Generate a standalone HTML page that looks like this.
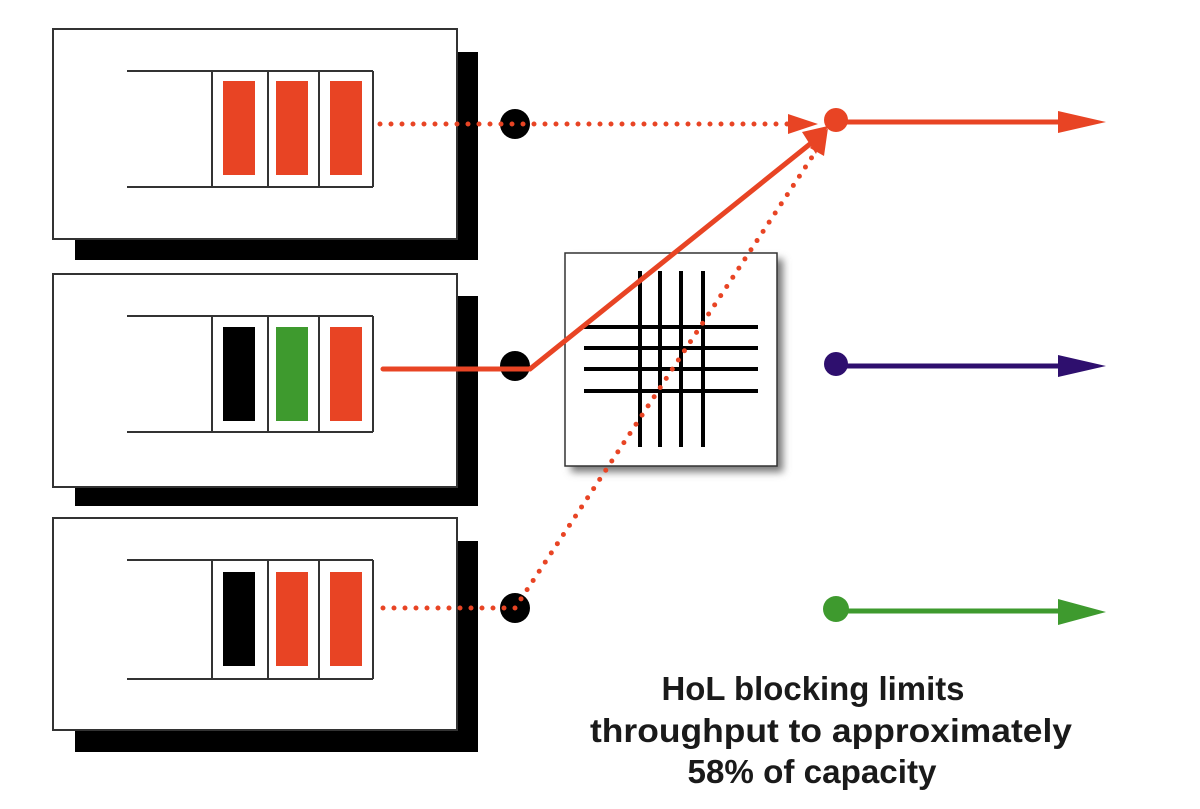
<!DOCTYPE html>
<html><head><style>html,body{margin:0;padding:0;background:#fff;}</style></head><body>
<svg width="1200" height="804" viewBox="0 0 1200 804" xmlns="http://www.w3.org/2000/svg">
<defs>
<filter id="sh" x="-20%" y="-20%" width="150%" height="150%"><feGaussianBlur stdDeviation="4"/></filter>
</defs>
<rect width="1200" height="804" fill="#fff"/>
<!-- Box 1 -->
<rect x="75" y="52" width="403" height="208" fill="#000"/>
<rect x="53" y="29" width="404" height="210" fill="#fff" stroke="#333" stroke-width="2"/>
<g stroke="#333" stroke-width="2" fill="none">
<line x1="127" y1="71" x2="373" y2="71"/><line x1="127" y1="187" x2="373" y2="187"/>
<line x1="212" y1="71" x2="212" y2="187"/><line x1="268" y1="71" x2="268" y2="187"/><line x1="319" y1="71" x2="319" y2="187"/><line x1="373" y1="71" x2="373" y2="187"/>
</g>
<rect x="223" y="81" width="32" height="94" fill="#e84424"/>
<rect x="276" y="81" width="32" height="94" fill="#e84424"/>
<rect x="330" y="81" width="32" height="94" fill="#e84424"/>
<!-- Box 2 -->
<rect x="75" y="296" width="403" height="210" fill="#000"/>
<rect x="53" y="274" width="404" height="213" fill="#fff" stroke="#333" stroke-width="2"/>
<g stroke="#333" stroke-width="2" fill="none">
<line x1="127" y1="316" x2="373" y2="316"/><line x1="127" y1="432" x2="373" y2="432"/>
<line x1="212" y1="316" x2="212" y2="432"/><line x1="268" y1="316" x2="268" y2="432"/><line x1="319" y1="316" x2="319" y2="432"/><line x1="373" y1="316" x2="373" y2="432"/>
</g>
<rect x="223" y="327" width="32" height="94" fill="#000"/>
<rect x="276" y="327" width="32" height="94" fill="#3e9a2e"/>
<rect x="330" y="327" width="32" height="94" fill="#e84424"/>
<!-- Box 3 -->
<rect x="75" y="541" width="403" height="211" fill="#000"/>
<rect x="53" y="518" width="404" height="212" fill="#fff" stroke="#333" stroke-width="2"/>
<g stroke="#333" stroke-width="2" fill="none">
<line x1="127" y1="560" x2="373" y2="560"/><line x1="127" y1="679" x2="373" y2="679"/>
<line x1="212" y1="560" x2="212" y2="679"/><line x1="268" y1="560" x2="268" y2="679"/><line x1="319" y1="560" x2="319" y2="679"/><line x1="373" y1="560" x2="373" y2="679"/>
</g>
<rect x="223" y="572" width="32" height="94" fill="#000"/>
<rect x="276" y="572" width="32" height="94" fill="#e84424"/>
<rect x="330" y="572" width="32" height="94" fill="#e84424"/>
<!-- crossbar -->
<rect x="571" y="259" width="212" height="213" fill="#777" filter="url(#sh)"/>
<rect x="565" y="253" width="212" height="213" fill="#fff" stroke="#333" stroke-width="1.5"/>
<g stroke="#000" stroke-width="4">
<line x1="640" y1="271" x2="640" y2="447"/><line x1="660" y1="271" x2="660" y2="447"/><line x1="681" y1="271" x2="681" y2="447"/><line x1="703" y1="271" x2="703" y2="447"/>
<line x1="584" y1="327" x2="758" y2="327"/><line x1="584" y1="348" x2="758" y2="348"/><line x1="584" y1="369" x2="758" y2="369"/><line x1="584" y1="391" x2="758" y2="391"/>
</g>
<!-- black dots -->
<circle cx="515" cy="124" r="15" fill="#000"/>
<circle cx="515" cy="366" r="15" fill="#000"/>
<circle cx="515" cy="608" r="15" fill="#000"/>
<!-- connectors -->
<g stroke="#e84424" stroke-width="5" stroke-linecap="round" fill="none">
<line x1="380" y1="124" x2="800" y2="124" stroke-dasharray="0 11"/>
<line x1="383" y1="608" x2="515" y2="608" stroke-dasharray="0 11"/>
<line x1="515" y1="608" x2="818" y2="148" stroke-dasharray="0 11"/>
<polyline points="383,369 530,369 815,140"/>
<line x1="836" y1="122" x2="1065" y2="122" stroke-width="5"/>
</g>
<polygon points="788,114 818,124 788,134" fill="#e84424"/>
<polygon points="810,148 828,128 824,156" fill="#e84424"/>
<polygon points="802,132 828,126 816,154" fill="#e84424"/>
<circle cx="836" cy="120" r="12" fill="#e84424"/>
<polygon points="1058,111 1106,122 1058,133" fill="#e84424"/>
<!-- purple -->
<line x1="836" y1="366" x2="1065" y2="366" stroke="#2e0f6e" stroke-width="5"/>
<circle cx="836" cy="364" r="12" fill="#2e0f6e"/>
<polygon points="1058,355 1106,366 1058,377" fill="#2e0f6e"/>
<!-- green -->
<line x1="836" y1="611" x2="1065" y2="611" stroke="#3e9a2e" stroke-width="5"/>
<circle cx="836" cy="609" r="13" fill="#3e9a2e"/>
<polygon points="1058,599 1106,612 1058,625" fill="#3e9a2e"/>
<!-- text -->
<g font-family="Liberation Sans, sans-serif" font-weight="bold" font-size="33" fill="#1a1a1a" text-anchor="middle">
<text x="813" y="700" textLength="303" lengthAdjust="spacingAndGlyphs">HoL blocking limits</text>
<text x="831" y="742" textLength="482" lengthAdjust="spacingAndGlyphs">throughput to approximately</text>
<text x="812" y="783" textLength="249" lengthAdjust="spacingAndGlyphs">58% of capacity</text>
</g>
</svg>
</body></html>
